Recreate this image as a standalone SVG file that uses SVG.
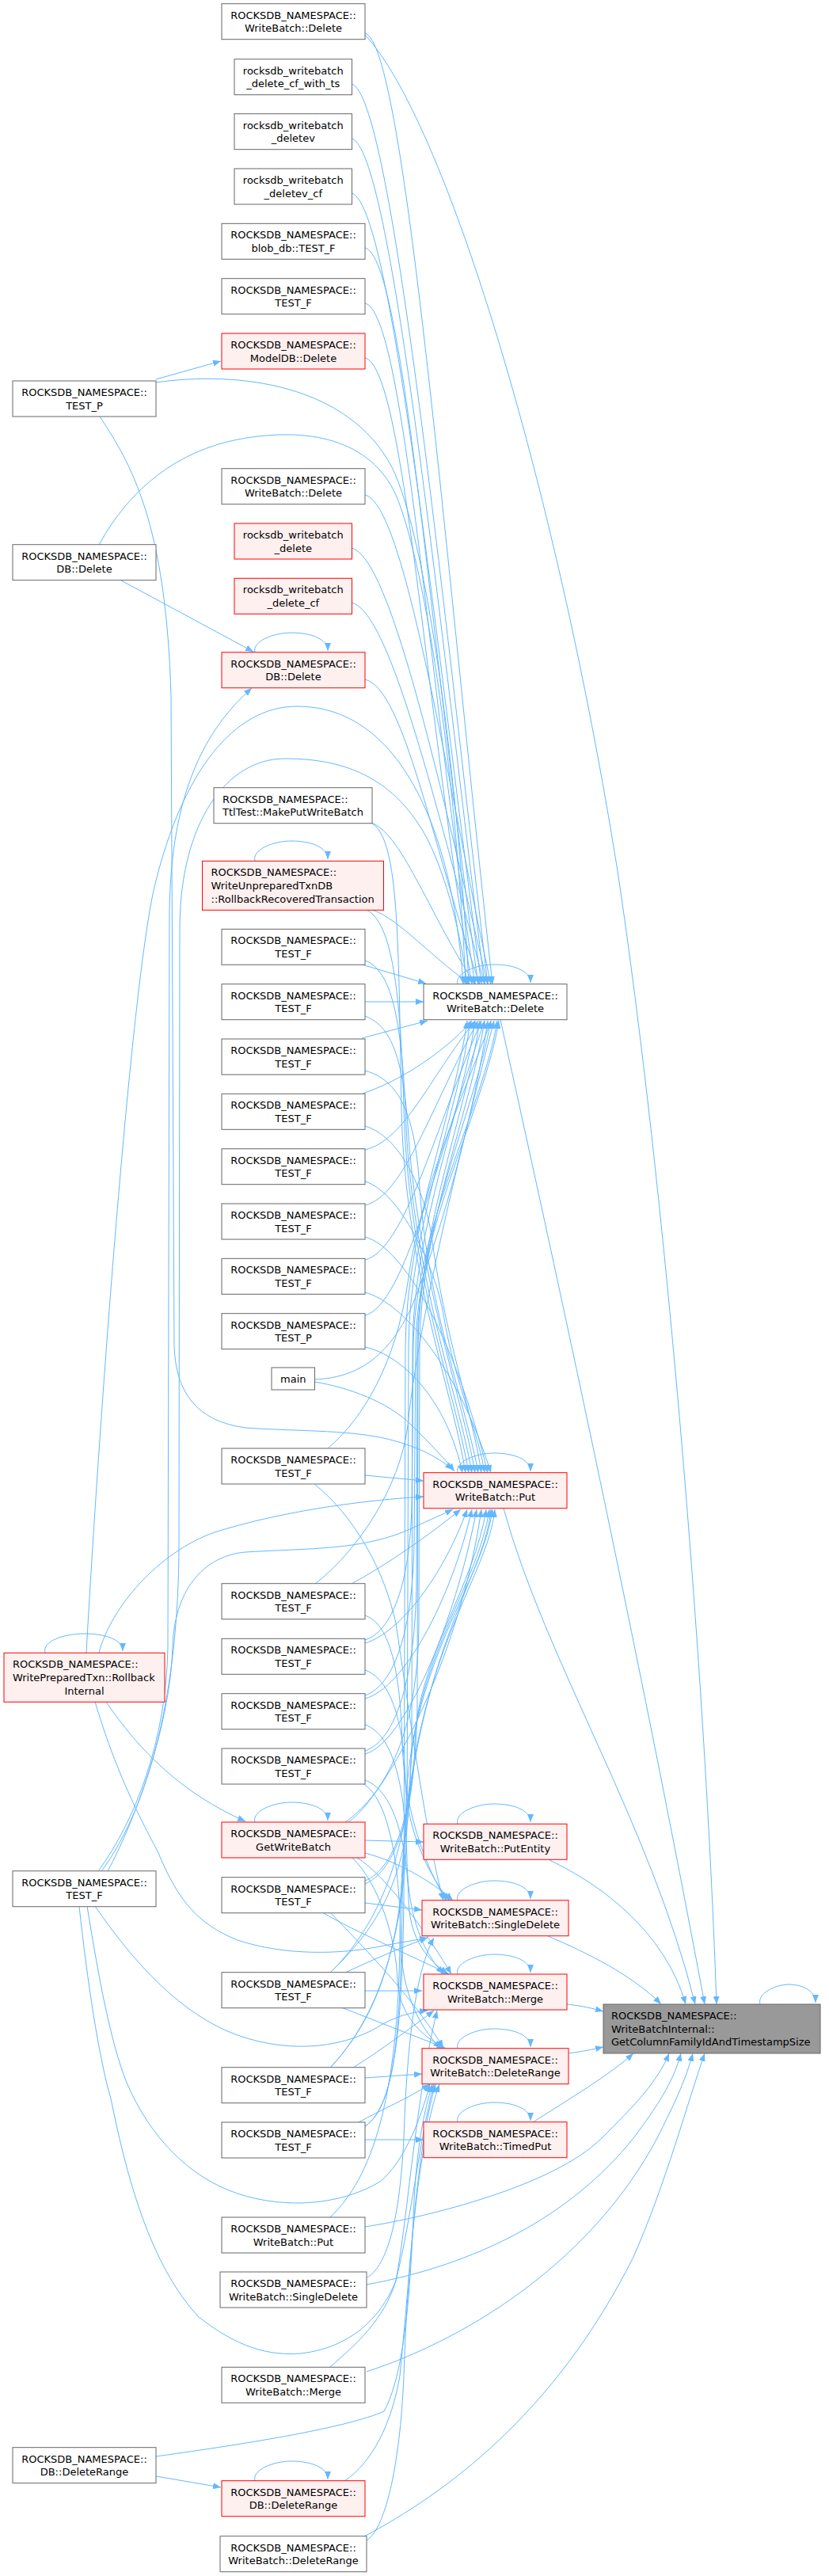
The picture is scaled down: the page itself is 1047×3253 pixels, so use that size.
<svg xmlns="http://www.w3.org/2000/svg" width="1047" height="3253" viewBox="0 0 1047 3253">
<style>
.n rect{fill:#ffffff;stroke:#666666;stroke-width:1}
.r rect{fill:#fff0f0;stroke:#ff0000;stroke-width:1}
.t rect{fill:#999999;stroke:#666666;stroke-width:1}
text{font-family:"DejaVu Sans","Liberation Sans",sans-serif;font-size:13px;fill:#000000;text-anchor:middle}
.l text{text-anchor:start}
#edges path{fill:none;stroke:#63b8ff;stroke-width:1;marker-end:url(#a)}
</style>
<defs>
<marker id="a" viewBox="0 0 10 8" refX="10" refY="4" markerWidth="10" markerHeight="8" markerUnits="userSpaceOnUse" orient="auto"><path d="M0,0 L10,4 L0,8 z" fill="#63b8ff"/></marker>
</defs>
<rect x="0" y="0" width="1047" height="3253" fill="#ffffff"/>
<g id="edges">
<path d="M461,42 C511,54 562,703 622,1243"/>
<path d="M444,106 C494,118 556,731 616,1243"/>
<path d="M444,175 C494,187 552,762 612,1243"/>
<path d="M444,244 C494,256 548,793 608,1243"/>
<path d="M461,313 C511,325 544,824 604,1243"/>
<path d="M461,383 C511,395 540,856 600,1243"/>
<path d="M461,452 C511,464 536,887 596,1243"/>
<path d="M197,483 C300,468 440,485 495,590 C540,680 580,1000 592,1243"/>
<path d="M197,479 L279,456"/>
<path d="M125,688 C165,615 225,570 300,555 C390,538 468,555 500,625 C540,720 578,1000 588,1243"/>
<path d="M153,733 L320,823"/>
<path d="M461,625 C511,637 560,965 620,1243"/>
<path d="M444,692 C494,704 556,995 616,1243"/>
<path d="M444,761 C494,773 552,1026 612,1243"/>
<path d="M461,858 C511,870 546,1070 606,1243"/>
<path d="M466,1038 C506,1048 540,1151 600,1243"/>
<path d="M463,1147 C500,1155 534,1200 594,1243"/>
<path d="M109,2087 C125,1800 165,1250 195,1120 C230,975 295,892 375,892 C455,892 510,950 545,1040 C568,1100 580,1170 585,1243"/>
<path d="M128,2363 C190,2280 226,2130 226,1950 L227,1170 C228,1040 285,958 360,958 C440,958 500,985 540,1060 C565,1110 582,1180 590,1243"/>
<path d="M457,1218 L538,1242"/>
<path d="M461,1265 L535,1265"/>
<path d="M457,1311 L540,1289"/>
<path d="M458,1381 C505,1365 560,1330 596,1289"/>
<path d="M461,1452 C511,1440 542,1362 600,1289"/>
<path d="M461,1522 C511,1510 546,1393 604,1289"/>
<path d="M461,1591 C511,1579 550,1424 608,1289"/>
<path d="M461,1661 C511,1649 554,1456 612,1289"/>
<path d="M397,1742 C450,1740 490,1715 520,1650 C560,1550 600,1400 616,1289"/>
<path d="M414,1829 C460,1790 500,1720 515,1620 C530,1500 595,1360 620,1289"/>
<path d="M398,2000 C450,1960 505,1880 515,1800 C530,1650 600,1380 624,1289"/>
<path d="M461,2071 C495,2060 518,2000 520,1900 L522,1700 C524,1550 610,1400 628,1289"/>
<path d="M461,2141 C498,2128 521,2060 523,1950 L525,1700 C527,1550 612,1400 630,1289"/>
<path d="M461,2211 C500,2198 524,2120 526,2000 L527,1700 C528,1550 600,1400 620,1289"/>
<path d="M436,2301 C480,2270 528,2200 529,2050 L530,1700 C531,1550 595,1400 612,1289"/>
<path d="M461,2375 C500,2360 526,2280 527,2150 L528,1700 C529,1550 590,1400 606,1289"/>
<path d="M417,2491 C470,2440 518,2350 520,2200 L521,1700 C522,1550 585,1400 600,1289"/>
<path d="M417,2611 C475,2550 512,2450 514,2300 L516,1700 C517,1550 580,1400 594,1289"/>
<path d="M461,2685 C500,2660 508,2550 510,2400 L512,1700 C513,1550 575,1400 590,1289"/>
<path d="M470,1040 C505,1060 503,1200 507,1400 C511,1600 570,1750 588,1860"/>
<path d="M463,1149 C495,1165 506,1250 510,1400 C515,1600 575,1760 592,1860"/>
<path d="M461,1213 C495,1225 507,1290 512,1400 C518,1600 580,1765 596,1860"/>
<path d="M461,1283 C492,1295 508,1330 515,1420 C525,1600 585,1770 600,1860"/>
<path d="M461,1352 C510,1365 525,1420 530,1500 C540,1650 590,1780 604,1860"/>
<path d="M461,1422 C505,1435 535,1500 545,1560 C560,1680 598,1790 608,1860"/>
<path d="M461,1492 C505,1505 550,1600 560,1660 C575,1750 605,1810 612,1860"/>
<path d="M461,1562 C510,1575 575,1690 616,1860"/>
<path d="M461,1632 C510,1645 580,1730 620,1860"/>
<path d="M461,1701 C510,1712 565,1770 584,1860"/>
<path d="M397,1745 C440,1752 490,1770 520,1800 C545,1825 560,1840 574,1858"/>
<path d="M126,526 C165,585 210,660 216,880 L220,1700 C222,1760 250,1795 310,1803 C380,1808 450,1805 500,1820 C535,1830 555,1842 572,1856"/>
<path d="M125,2087 C140,2030 200,1960 271,1935 C350,1910 450,1895 535,1890"/>
<path d="M461,1863 L535,1870"/>
<path d="M136,2363 C170,2300 215,2180 218,2080 C220,2010 255,1965 310,1960 C390,1955 460,1958 520,1930 C545,1918 560,1912 572,1906"/>
<path d="M444,2000 C490,1975 540,1940 582,1906"/>
<path d="M461,2075 C505,2062 560,1990 590,1906"/>
<path d="M461,2145 C510,2132 570,2020 596,1906"/>
<path d="M461,2215 C510,2202 575,2050 602,1906"/>
<path d="M440,2301 C485,2270 580,2100 608,1906"/>
<path d="M461,2379 C495,2365 522,2300 524,2200 C526,2100 600,2000 614,1906"/>
<path d="M417,2491 C470,2440 516,2380 518,2250 C520,2100 605,2000 618,1906"/>
<path d="M417,2611 C475,2550 510,2460 512,2300 C514,2100 610,2000 622,1906"/>
<path d="M461,2685 C500,2660 506,2560 508,2400 C510,2100 615,2000 625,1906"/>
<path d="M417,2800 C470,2750 503,2650 505,2450 C507,2100 612,2000 620,1906"/>
<path d="M461,2324 L535,2326"/>
<path d="M398,1875 C430,1900 480,1960 500,2050 C515,2150 540,2330 560,2400"/>
<path d="M461,2040 C490,2050 505,2100 508,2200 C511,2300 545,2370 564,2400"/>
<path d="M461,2109 C492,2120 510,2170 512,2250 C514,2320 550,2380 568,2400"/>
<path d="M461,2340 C500,2350 545,2375 572,2400"/>
<path d="M461,2403 L533,2412"/>
<path d="M120,2149 C150,2250 185,2310 200,2340 C225,2400 250,2430 300,2450 C360,2470 430,2468 480,2458 C505,2453 525,2450 540,2447"/>
<path d="M436,2491 C470,2475 505,2460 540,2447"/>
<path d="M464,2876 C490,2860 505,2800 510,2700 C515,2550 530,2480 548,2447"/>
<path d="M461,2178 C495,2190 512,2250 514,2350 C516,2440 545,2475 560,2493"/>
<path d="M461,2248 C495,2260 514,2320 516,2400 C518,2460 550,2480 565,2493"/>
<path d="M451,2346 C490,2370 545,2450 570,2493"/>
<path d="M407,2415 C450,2440 520,2470 567,2493"/>
<path d="M461,2514 L533,2514"/>
<path d="M446,2611 C480,2590 520,2560 548,2539"/>
<path d="M120,2407 C170,2480 230,2545 300,2570 C370,2595 440,2585 485,2555 C505,2545 520,2541 540,2539"/>
<path d="M417,2989 C450,2960 485,2930 500,2880 C515,2800 525,2650 552,2539"/>
<path d="M458,2252 C490,2270 505,2350 506,2450 C507,2530 540,2570 557,2587"/>
<path d="M445,2346 C480,2380 500,2450 502,2500 C504,2550 540,2575 562,2587"/>
<path d="M417,2415 C460,2460 520,2520 560,2586"/>
<path d="M431,2535 C470,2550 520,2570 562,2586"/>
<path d="M461,2624 L533,2619"/>
<path d="M453,2680 C480,2665 515,2650 543,2632"/>
<path d="M110,2407 C125,2500 140,2580 160,2630 C190,2700 240,2750 300,2770 C360,2790 430,2785 480,2755 C510,2730 530,2680 543,2632"/>
<path d="M100,2407 C110,2500 125,2600 140,2650 C160,2750 190,2860 250,2925 C300,2965 340,2975 380,2972 C440,2965 480,2930 500,2880 C520,2800 530,2700 548,2632"/>
<path d="M435,3133 C470,3110 495,3060 505,3000 C520,2850 525,2720 550,2632"/>
<path d="M463,3208 C485,3195 505,3120 510,3000 C515,2850 530,2700 555,2632"/>
<path d="M197,3102 C320,3085 440,3065 485,3045 C510,3000 518,2900 522,2800 C526,2700 538,2660 546,2632"/>
<path d="M197,3127 L279,3141"/>
<path d="M461,2702 L535,2702"/>
<path d="M124,2363 C170,2300 210,2200 212,2080 L214,1150 C216,1000 260,920 318,869"/>
<path d="M134,2149 C175,2210 230,2265 310,2300"/>
<path d="M461,44 C560,150 700,600 780,1100 C840,1500 890,2100 905,2531"/>
<path d="M632,1288 C690,1550 800,2050 890,2531"/>
<path d="M636,1905 C690,2100 820,2300 878,2531"/>
<path d="M694,2349 C760,2380 840,2440 866,2531"/>
<path d="M692,2445 C740,2465 800,2495 835,2531"/>
<path d="M716,2531 C735,2533 748,2536 762,2540"/>
<path d="M717,2593 C735,2591 748,2588 762,2585"/>
<path d="M673,2680 C720,2650 770,2620 800,2593"/>
<path d="M461,2812 C540,2800 700,2760 760,2700 C800,2660 830,2630 845,2593"/>
<path d="M463,2885 C600,2860 720,2800 800,2700 C830,2660 850,2630 860,2593"/>
<path d="M463,2995 C600,2950 750,2850 830,2700 C850,2660 865,2630 875,2593"/>
<path d="M460,3203 C560,3150 700,3050 800,2850 C840,2760 870,2650 890,2593"/>
<path d="M322,824 C318,810 345,799 368,799 C391,799 414,806 414,822"/>
<path d="M322,1087 C318,1073 345,1062 368,1062 C391,1062 414,1069 414,1085"/>
<path d="M322,2301 C318,2287 345,2276 368,2276 C391,2276 414,2283 414,2299"/>
<path d="M322,3133 C318,3119 345,3108 368,3108 C391,3108 414,3115 414,3131"/>
<path d="M57,2087 C53,2073 80,2063 106,2063 C132,2063 155,2070 155,2085"/>
<path d="M578,1243 C574,1229 601,1218 624,1218 C647,1218 670,1225 670,1241"/>
<path d="M578,1860 C574,1846 601,1835 624,1835 C647,1835 670,1842 670,1858"/>
<path d="M578,2303 C574,2289 601,2278 624,2278 C647,2278 670,2285 670,2301"/>
<path d="M578,2400 C574,2386 601,2375 624,2375 C647,2375 670,2382 670,2398"/>
<path d="M578,2493 C574,2479 601,2468 624,2468 C647,2468 670,2475 670,2491"/>
<path d="M578,2587 C574,2573 601,2562 624,2562 C647,2562 670,2569 670,2585"/>
<path d="M578,2680 C574,2666 601,2655 624,2655 C647,2655 670,2662 670,2678"/>
<path d="M960,2531 C956,2517 980,2506 996,2506 C1012,2506 1030,2513 1030,2529"/>
</g>
<g id="M1" class="n"><rect x="280" y="4.7" width="181" height="45"/><text x="370.5" y="23.7">ROCKSDB_NAMESPACE::</text><text x="370.5" y="40.4">WriteBatch::Delete</text></g>
<g id="M2" class="n"><rect x="296" y="74.7" width="148.5" height="45"/><text x="370.3" y="93.7">rocksdb_writebatch</text><text x="370.3" y="110.4">_delete_cf_with_ts</text></g>
<g id="M3" class="n"><rect x="296" y="143.7" width="148.5" height="45"/><text x="370.3" y="162.7">rocksdb_writebatch</text><text x="370.3" y="179.4">_deletev</text></g>
<g id="M4" class="n"><rect x="296" y="213" width="148.5" height="45"/><text x="370.3" y="232">rocksdb_writebatch</text><text x="370.3" y="248.7">_deletev_cf</text></g>
<g id="M5" class="n"><rect x="280" y="282.3" width="181" height="45"/><text x="370.5" y="301.3">ROCKSDB_NAMESPACE::</text><text x="370.5" y="318">blob_db::TEST_F</text></g>
<g id="M6" class="n"><rect x="280" y="351.7" width="181" height="45"/><text x="370.5" y="370.7">ROCKSDB_NAMESPACE::</text><text x="370.5" y="387.4">TEST_F</text></g>
<g id="M7" class="r"><rect x="280" y="421" width="181" height="45"/><text x="370.5" y="440">ROCKSDB_NAMESPACE::</text><text x="370.5" y="456.7">ModelDB::Delete</text></g>
<g id="M8" class="n"><rect x="280" y="591.7" width="181" height="45"/><text x="370.5" y="610.7">ROCKSDB_NAMESPACE::</text><text x="370.5" y="627.4">WriteBatch::Delete</text></g>
<g id="M9" class="r"><rect x="296" y="661" width="148.5" height="45"/><text x="370.3" y="680">rocksdb_writebatch</text><text x="370.3" y="696.7">_delete</text></g>
<g id="M10" class="r"><rect x="296" y="730.3" width="148.5" height="45"/><text x="370.3" y="749.3">rocksdb_writebatch</text><text x="370.3" y="766">_delete_cf</text></g>
<g id="M11" class="r"><rect x="280" y="823.7" width="181" height="45"/><text x="370.5" y="842.7">ROCKSDB_NAMESPACE::</text><text x="370.5" y="859.4">DB::Delete</text></g>
<g id="M12" class="n l"><rect x="270" y="994.7" width="200" height="45"/><text x="281" y="1013.7">ROCKSDB_NAMESPACE::</text><text x="281" y="1030.4">TtlTest::MakePutWriteBatch</text></g>
<g id="M13" class="r l"><rect x="255.5" y="1087.3" width="229" height="62"/><text x="266.5" y="1106.3">ROCKSDB_NAMESPACE::</text><text x="266.5" y="1123">WriteUnpreparedTxnDB</text><text x="266.5" y="1139.7">::RollbackRecoveredTransaction</text></g>
<g id="M14" class="n"><rect x="280" y="1173.3" width="181" height="45"/><text x="370.5" y="1192.3">ROCKSDB_NAMESPACE::</text><text x="370.5" y="1209">TEST_F</text></g>
<g id="M15" class="n"><rect x="280" y="1242.7" width="181" height="45"/><text x="370.5" y="1261.7">ROCKSDB_NAMESPACE::</text><text x="370.5" y="1278.4">TEST_F</text></g>
<g id="M16" class="n"><rect x="280" y="1312" width="181" height="45"/><text x="370.5" y="1331">ROCKSDB_NAMESPACE::</text><text x="370.5" y="1347.7">TEST_F</text></g>
<g id="M17" class="n"><rect x="280" y="1381.3" width="181" height="45"/><text x="370.5" y="1400.3">ROCKSDB_NAMESPACE::</text><text x="370.5" y="1417">TEST_F</text></g>
<g id="M18" class="n"><rect x="280" y="1450.7" width="181" height="45"/><text x="370.5" y="1469.7">ROCKSDB_NAMESPACE::</text><text x="370.5" y="1486.4">TEST_F</text></g>
<g id="M19" class="n"><rect x="280" y="1520" width="181" height="45"/><text x="370.5" y="1539">ROCKSDB_NAMESPACE::</text><text x="370.5" y="1555.7">TEST_F</text></g>
<g id="M20" class="n"><rect x="280" y="1589.3" width="181" height="45"/><text x="370.5" y="1608.3">ROCKSDB_NAMESPACE::</text><text x="370.5" y="1625">TEST_F</text></g>
<g id="M21" class="n"><rect x="280" y="1658.7" width="181" height="45"/><text x="370.5" y="1677.7">ROCKSDB_NAMESPACE::</text><text x="370.5" y="1694.4">TEST_P</text></g>
<g id="main" class="n"><rect x="343" y="1727" width="54.5" height="28"/><text x="370.3" y="1746">main</text></g>
<g id="M22" class="n"><rect x="280" y="1829" width="181" height="45"/><text x="370.5" y="1848">ROCKSDB_NAMESPACE::</text><text x="370.5" y="1864.7">TEST_F</text></g>
<g id="M23" class="n"><rect x="280" y="1999.7" width="181" height="45"/><text x="370.5" y="2018.7">ROCKSDB_NAMESPACE::</text><text x="370.5" y="2035.4">TEST_F</text></g>
<g id="M24" class="n"><rect x="280" y="2069.3" width="181" height="45"/><text x="370.5" y="2088.3">ROCKSDB_NAMESPACE::</text><text x="370.5" y="2105">TEST_F</text></g>
<g id="M25" class="n"><rect x="280" y="2138.7" width="181" height="45"/><text x="370.5" y="2157.7">ROCKSDB_NAMESPACE::</text><text x="370.5" y="2174.4">TEST_F</text></g>
<g id="M26" class="n"><rect x="280" y="2208" width="181" height="45"/><text x="370.5" y="2227">ROCKSDB_NAMESPACE::</text><text x="370.5" y="2243.7">TEST_F</text></g>
<g id="M27" class="r"><rect x="280" y="2301" width="181" height="45"/><text x="370.5" y="2320">ROCKSDB_NAMESPACE::</text><text x="370.5" y="2336.7">GetWriteBatch</text></g>
<g id="M28" class="n"><rect x="280" y="2370.7" width="181" height="45"/><text x="370.5" y="2389.7">ROCKSDB_NAMESPACE::</text><text x="370.5" y="2406.4">TEST_F</text></g>
<g id="M29" class="n"><rect x="280" y="2490.7" width="181" height="45"/><text x="370.5" y="2509.7">ROCKSDB_NAMESPACE::</text><text x="370.5" y="2526.4">TEST_F</text></g>
<g id="M30" class="n"><rect x="280" y="2610.7" width="181" height="45"/><text x="370.5" y="2629.7">ROCKSDB_NAMESPACE::</text><text x="370.5" y="2646.4">TEST_F</text></g>
<g id="M31" class="n"><rect x="280" y="2680" width="181" height="45"/><text x="370.5" y="2699">ROCKSDB_NAMESPACE::</text><text x="370.5" y="2715.7">TEST_F</text></g>
<g id="M32" class="n"><rect x="280" y="2800" width="181" height="45"/><text x="370.5" y="2819">ROCKSDB_NAMESPACE::</text><text x="370.5" y="2835.7">WriteBatch::Put</text></g>
<g id="M33" class="n"><rect x="278" y="2869" width="185" height="45"/><text x="370.5" y="2888">ROCKSDB_NAMESPACE::</text><text x="370.5" y="2904.7">WriteBatch::SingleDelete</text></g>
<g id="M34" class="n"><rect x="280" y="2989.3" width="181" height="45"/><text x="370.5" y="3008.3">ROCKSDB_NAMESPACE::</text><text x="370.5" y="3025">WriteBatch::Merge</text></g>
<g id="M35" class="r"><rect x="280" y="3132.7" width="181" height="45"/><text x="370.5" y="3151.7">ROCKSDB_NAMESPACE::</text><text x="370.5" y="3168.4">DB::DeleteRange</text></g>
<g id="M36" class="n"><rect x="278" y="3202.7" width="185" height="45"/><text x="370.5" y="3221.7">ROCKSDB_NAMESPACE::</text><text x="370.5" y="3238.4">WriteBatch::DeleteRange</text></g>
<g id="L1" class="n"><rect x="16" y="481" width="181" height="45"/><text x="106.5" y="500">ROCKSDB_NAMESPACE::</text><text x="106.5" y="516.7">TEST_P</text></g>
<g id="L2" class="n"><rect x="16" y="687.7" width="181" height="45"/><text x="106.5" y="706.7">ROCKSDB_NAMESPACE::</text><text x="106.5" y="723.4">DB::Delete</text></g>
<g id="L3" class="r"><rect x="5" y="2087.3" width="203" height="62"/><text x="16" y="2106.3" style="text-anchor:start">ROCKSDB_NAMESPACE::</text><text x="16" y="2123" style="text-anchor:start">WritePreparedTxn::Rollback</text><text x="106.5" y="2139.7">Internal</text></g>
<g id="L4" class="n"><rect x="16" y="2362.7" width="181" height="45"/><text x="106.5" y="2381.7">ROCKSDB_NAMESPACE::</text><text x="106.5" y="2398.4">TEST_F</text></g>
<g id="L5" class="n"><rect x="16" y="3090.7" width="181" height="45"/><text x="106.5" y="3109.7">ROCKSDB_NAMESPACE::</text><text x="106.5" y="3126.4">DB::DeleteRange</text></g>
<g id="R1" class="n"><rect x="535" y="1242.7" width="181" height="45"/><text x="625.5" y="1261.7">ROCKSDB_NAMESPACE::</text><text x="625.5" y="1278.4">WriteBatch::Delete</text></g>
<g id="R2" class="r"><rect x="535" y="1859.7" width="181" height="45"/><text x="625.5" y="1878.7">ROCKSDB_NAMESPACE::</text><text x="625.5" y="1895.4">WriteBatch::Put</text></g>
<g id="R3" class="r"><rect x="535" y="2303.3" width="181" height="45"/><text x="625.5" y="2322.3">ROCKSDB_NAMESPACE::</text><text x="625.5" y="2339">WriteBatch::PutEntity</text></g>
<g id="R4" class="r"><rect x="533" y="2399.7" width="185" height="45"/><text x="625.5" y="2418.7">ROCKSDB_NAMESPACE::</text><text x="625.5" y="2435.4">WriteBatch::SingleDelete</text></g>
<g id="R5" class="r"><rect x="535" y="2493" width="181" height="45"/><text x="625.5" y="2512">ROCKSDB_NAMESPACE::</text><text x="625.5" y="2528.7">WriteBatch::Merge</text></g>
<g id="R6" class="r"><rect x="533" y="2586.7" width="185" height="45"/><text x="625.5" y="2605.7">ROCKSDB_NAMESPACE::</text><text x="625.5" y="2622.4">WriteBatch::DeleteRange</text></g>
<g id="R7" class="r"><rect x="535" y="2679.7" width="181" height="45"/><text x="625.5" y="2698.7">ROCKSDB_NAMESPACE::</text><text x="625.5" y="2715.4">WriteBatch::TimedPut</text></g>
<g id="T" class="t l"><rect x="762" y="2531" width="274" height="62"/><text x="772" y="2550">ROCKSDB_NAMESPACE::</text><text x="772" y="2566.7">WriteBatchInternal::</text><text x="772" y="2583.4">GetColumnFamilyIdAndTimestampSize</text></g>
</svg>
